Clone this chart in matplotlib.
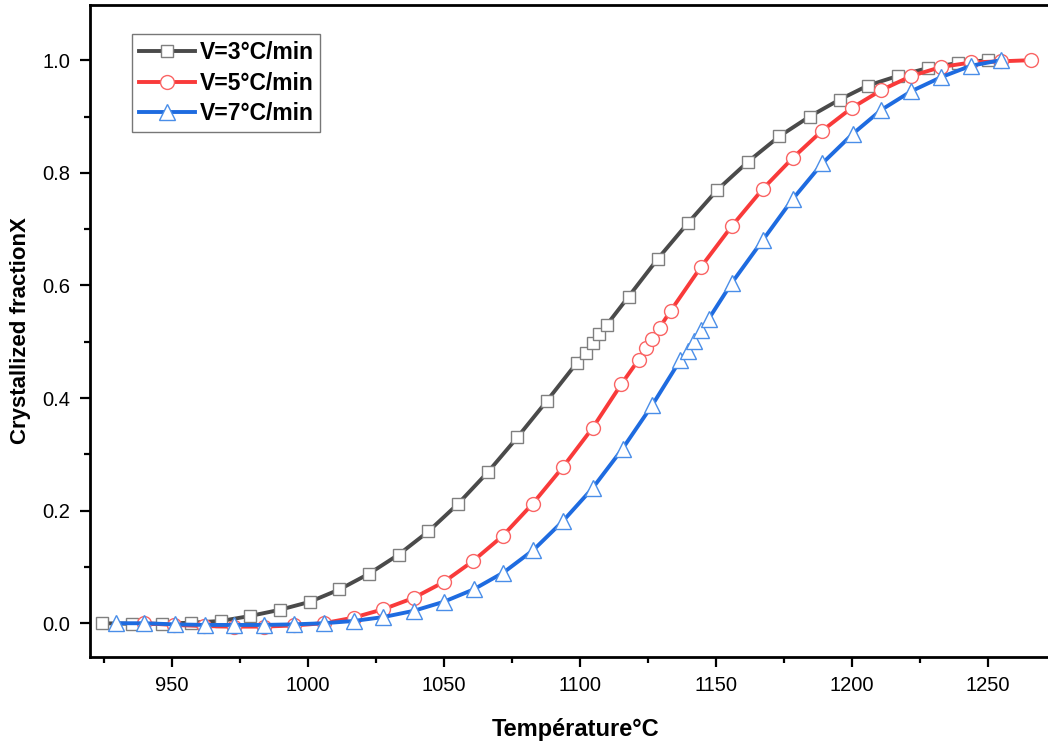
import numpy as np
import matplotlib
matplotlib.use("Agg")
import matplotlib.pyplot as plt

plt.rcParams['font.family'] = ['Liberation Sans', 'DejaVu Sans']

# V = 3 °C/min
t_3 = [924.5, 935.4, 946.3, 957.2, 968.1, 979.0, 989.9, 1000.8, 1011.7, 1022.6,
       1033.5, 1044.4, 1055.3, 1066.2, 1077.1, 1088.0, 1098.9, 1102.2, 1104.8,
       1107.0, 1110.0, 1118.0, 1128.7, 1139.7, 1150.7, 1162.0, 1173.5, 1184.6,
       1195.6, 1206.0, 1217.0, 1228.0, 1239.0, 1250.0]
x_3 = [0.0, -0.001, -0.001, 0.001, 0.004, 0.013, 0.024, 0.038, 0.06, 0.088,
       0.122, 0.163, 0.212, 0.268, 0.33, 0.395, 0.462, 0.48, 0.497,
       0.513, 0.53, 0.58, 0.647, 0.71, 0.77, 0.82, 0.865, 0.9,
       0.93, 0.955, 0.972, 0.986, 0.995, 1.0]

# V = 5 °C/min
t_5 = [939.7, 950.7, 961.8, 972.8, 983.8, 994.9, 1005.9, 1016.9, 1027.9, 1039.0,
       1050.0, 1060.7, 1071.7, 1082.7, 1093.8, 1104.8, 1115.4, 1121.7, 1124.3,
       1126.8, 1129.4, 1133.5, 1144.5, 1155.9, 1167.3, 1178.3, 1189.0, 1200.0,
       1211.0, 1222.0, 1233.0, 1244.0, 1254.8, 1265.8]
x_5 = [0.0, -0.003, -0.005, -0.006, -0.006, -0.004, 0.0, 0.01, 0.025, 0.045,
       0.073, 0.11, 0.155, 0.212, 0.277, 0.347, 0.425, 0.468, 0.488,
       0.505, 0.525, 0.555, 0.632, 0.705, 0.771, 0.826, 0.874, 0.915,
       0.947, 0.972, 0.988, 0.996, 0.998, 1.0]

# V = 7 °C/min
t_7 = [929.4, 940.0, 951.1, 962.1, 972.8, 983.8, 994.9, 1005.9, 1016.9, 1027.9,
       1039.0, 1050.0, 1061.0, 1072.0, 1083.0, 1093.8, 1104.8, 1115.8, 1126.8,
       1137.1, 1139.7, 1141.9, 1144.5, 1147.4, 1155.9, 1167.3, 1178.3, 1189.3,
       1200.4, 1211.0, 1222.0, 1233.0, 1243.8, 1254.8]
x_7 = [0.0, 0.0, -0.002, -0.003, -0.003, -0.003, -0.002, 0.0, 0.004, 0.011,
       0.022, 0.038, 0.06, 0.09, 0.13, 0.181, 0.24, 0.31, 0.388,
       0.468, 0.484, 0.502, 0.52, 0.54, 0.604, 0.68, 0.753, 0.817,
       0.869, 0.912, 0.945, 0.97, 0.99, 1.0]

labels = ["V=3°C/min", "V=5°C/min", "V=7°C/min"]

fig = plt.figure(figsize=(10.48, 7.49), dpi=100)
ax = fig.add_axes([0.0859, 0.1228, 0.9265, 0.8705])

ax.plot(t_3, x_3, color="#4a4a4a", linewidth=2.8, marker="s", markersize=9,
        markerfacecolor="white", markeredgecolor="#7f7f7f", markeredgewidth=1.0,
        label=labels[0])
ax.plot(t_5, x_5, color="#f93a3a", linewidth=2.8, marker="o", markersize=10,
        markerfacecolor="white", markeredgecolor="#fa6464", markeredgewidth=1.0,
        label=labels[1])
ax.plot(t_7, x_7, color="#1e6be0", linewidth=2.8, marker="^", markersize=11,
        markerfacecolor="white", markeredgecolor="#4a8ee8", markeredgewidth=1.0,
        label=labels[2])

ax.set_xlim(920, 1277)
ax.set_ylim(-0.06, 1.098)
ax.set_xticks(np.arange(950, 1251, 50))
ax.set_xticks(np.arange(925, 1276, 25), minor=True)
ax.set_yticks(np.arange(0, 1.01, 0.2))
ax.set_yticks(np.arange(0, 1.01, 0.1), minor=True)
ax.yaxis.set_major_formatter(matplotlib.ticker.FormatStrFormatter("%.1f"))

ax.tick_params(which="major", direction="out", length=7, width=1.6,
               labelsize=14.5, pad=7)
ax.tick_params(which="minor", direction="out", length=4, width=1.6)
for side in ["left", "bottom", "top"]:
    ax.spines[side].set_linewidth(2.0)
ax.spines["right"].set_visible(False)

ax.set_xlabel("Température°C", fontsize=17, fontweight="bold", labelpad=16)
ax.set_ylabel("Crystallized fractionX", fontsize=16, fontweight="bold", labelpad=8)

leg = ax.legend(loc="upper left", bbox_to_anchor=(0.043, 0.955),
                prop={"weight": "bold", "size": 16.5}, frameon=True, fancybox=False,
                edgecolor="#555555", handlelength=2.45, handletextpad=0.2,
                borderpad=0.3, labelspacing=0.32, borderaxespad=0)
leg.get_frame().set_linewidth(1.0)

fig.savefig("out.png", dpi=100)
